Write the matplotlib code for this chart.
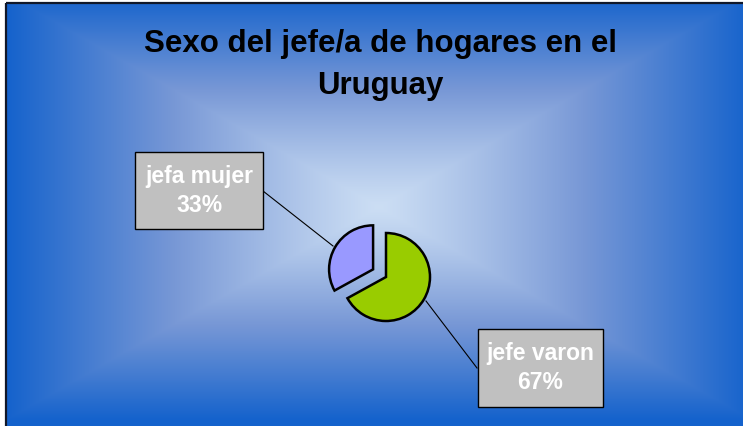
import numpy as np
import matplotlib
matplotlib.use("Agg")
import matplotlib.pyplot as plt
from matplotlib.patches import Rectangle

# ---- data ----
categories = ["jefe varon", "jefa mujer"]
values = [67, 33]
pct_labels = ["67%", "33%"]
colors = ["#99CC00", "#9999FF"]
title_lines = ["Sexo del jefe/a de hogares en el", "Uruguay"]

W, H = 743, 427
fig = plt.figure(figsize=(W / 100, H / 100), dpi=100)
fig.patch.set_facecolor("white")
ax = fig.add_axes([0, 0, 1, 1])
ax.set_xlim(0, W)
ax.set_ylim(H, 0)
ax.axis("off")

# ---- background: rectangular "from centre" gradient ----
x0, y0, x1, y1 = 6, 4, 752, 430
cx, cy = 379, 208
xs = np.arange(x0, x1) + 0.5
ys = np.arange(y0, y1) + 0.5
X, Y = np.meshgrid(xs, ys)
t = np.maximum(np.abs(X - cx) / ((x1 - x0) / 2), np.abs(Y - cy) / ((y1 - y0) / 2))
t = np.clip(t, 0, 1) ** 1.15
c_in = np.array([204, 222, 244]) / 255
c_mid = np.array([120, 152, 214]) / 255
c_out = np.array([20, 98, 204]) / 255
tt = t[..., None]
img = np.where(tt < 0.5,
               c_in * (1 - tt / 0.5) + c_mid * (tt / 0.5),
               c_mid * (1 - (tt - 0.5) / 0.5) + c_out * ((tt - 0.5) / 0.5))
ax.imshow(img, extent=(x0, x1, y1, y0), zorder=0, interpolation="bilinear")
ax.add_patch(Rectangle((x0, y0), x1 - x0 + 20, y1 - y0 + 20, fill=False,
                       edgecolor="#10182a", lw=1.6, zorder=1))

# ---- title ----
for line, yb in zip(title_lines, [52, 94]):
    ax.text(380, yb, line, ha="center", va="baseline", fontsize=22.5,
            fontweight="bold", family="Liberation Sans", color="black", zorder=5)

# ---- pie (drawn in a dedicated axes sized to the pixel layout) ----
pcx, pcy, R = 386, 278, 44
pax = fig.add_axes([(pcx - 100) / W, (H - pcy - 100) / H, 200 / W, 200 / H])
pax.axis("off")
pax.pie(values, colors=colors, startangle=90, counterclock=False,
        radius=R, center=(0, 0), explode=[0, 15],
        wedgeprops=dict(edgecolor="black", linewidth=1.8))
pax.set_aspect("equal")
pax.set_xlim(-100, 100)
pax.set_ylim(-100, 100)

# ---- leader lines ----
ax.plot([263, 333], [192, 247], color="black", lw=0.8, zorder=3)
ax.plot([426, 477], [302, 369], color="black", lw=0.8, zorder=3)

# ---- label boxes ----
boxes = {
    "jefa mujer": (135, 153, 128, 77),
    "jefe varon": (478, 330, 125, 78),
}
for cat, pl in zip(categories, pct_labels):
    bx, by, bw, bh = boxes[cat]
    ax.add_patch(Rectangle((bx, by), bw, bh, facecolor="#C0C0C0",
                           edgecolor="black", lw=1.0, zorder=4))
    mx = bx + bw / 2
    ax.text(mx, by + 30, cat, ha="center", va="baseline", fontsize=16.5,
            fontweight="bold", family="Liberation Sans", color="white", zorder=5)
    ax.text(mx, by + 59, pl, ha="center", va="baseline", fontsize=16.5,
            fontweight="bold", family="Liberation Sans", color="white", zorder=5)

fig.savefig("out.png", dpi=100)
